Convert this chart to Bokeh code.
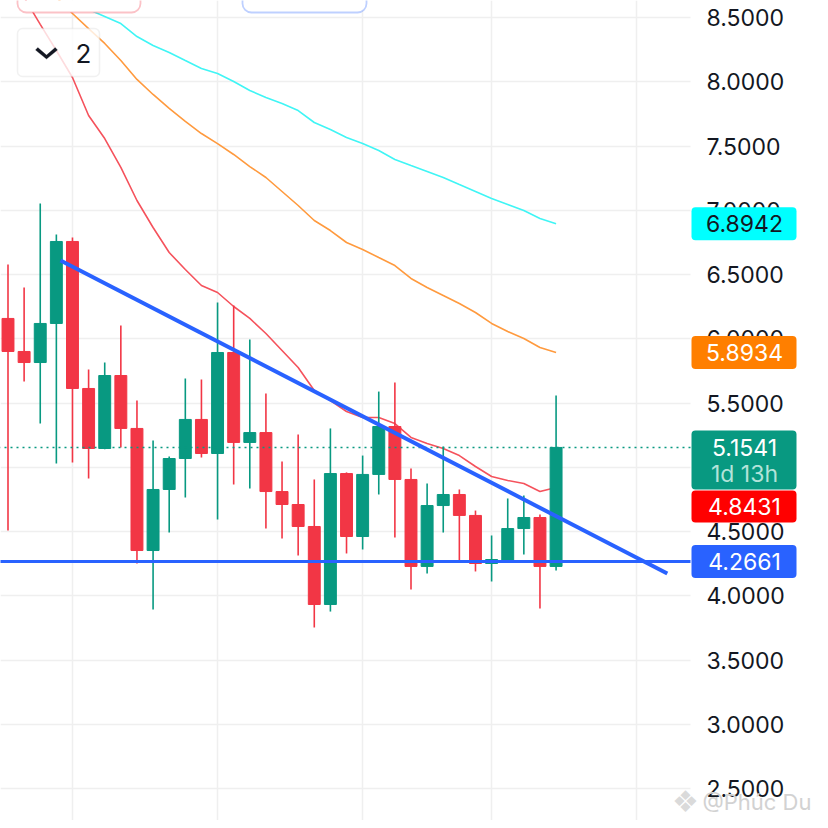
import numpy as np
from bokeh.plotting import figure
from bokeh.models import (Range1d, FixedTicker, Label, BoxAnnotation,
                          PolyAnnotation, ColumnDataSource, NumeralTickFormatter)
from bokeh.embed import file_html
from bokeh.resources import INLINE

# ---------------- data ----------------
opens  = [6.158, 5.901, 5.815, 6.119, 6.757, 5.613, 5.146, 5.714, 5.302, 4.352,
          4.827, 5.068, 5.372, 5.107, 5.893, 5.193, 5.270, 4.811, 4.710, 4.539,
          3.932, 4.951, 4.461, 4.944, 5.317, 4.905, 4.228, 4.702, 4.788, 4.625,
          4.251, 4.274, 4.523, 4.609, 4.228]
highs  = [6.578, 6.399, 7.053, 6.811, 6.788, 5.761, 5.815, 6.103, 5.519, 5.208,
          5.084, 5.691, 5.683, 6.282, 6.259, 5.994, 5.574, 5.045, 5.255, 4.905,
          5.302, 4.960, 5.091, 5.589, 5.660, 4.990, 4.874, 5.161, 4.827, 4.663,
          4.469, 4.757, 4.780, 4.632, 5.558]
lows   = [4.508, 5.667, 5.340, 5.029, 5.037, 4.912, 5.140, 5.154, 4.251, 3.893,
          4.492, 4.765, 5.076, 4.593, 4.866, 4.835, 4.523, 4.446, 4.313, 3.753,
          3.877, 4.329, 4.360, 4.788, 4.453, 4.049, 4.173, 4.492, 4.274, 4.189,
          4.111, 4.259, 4.321, 3.901, 4.196]
closes = [5.901, 5.815, 6.119, 6.757, 5.613, 5.146, 5.714, 5.302, 4.352, 4.827,
          5.068, 5.372, 5.107, 5.893, 5.193, 5.270, 4.811, 4.710, 4.539, 3.932,
          4.951, 4.461, 4.944, 5.317, 4.905, 4.228, 4.702, 4.788, 4.625, 4.251,
          4.282, 4.523, 4.609, 4.228, 5.1541]

nan = float("nan")
ma_fast = [8.866, 8.656, 8.446, 8.243, 8.033, 7.737, 7.558, 7.333, 7.076, 6.866,
           6.671, 6.539, 6.414, 6.360, 6.251, 6.158, 6.041, 5.909, 5.776, 5.597,
           5.519, 5.434, 5.387, 5.387, 5.340, 5.232, 5.185, 5.146, 5.091, 5.006,
           4.928, 4.897, 4.874, 4.811, 4.8431]
ma_mid  = [nan, nan, nan, 8.656, 8.531, 8.414, 8.298, 8.165, 8.018, 7.901,
           7.792, 7.691, 7.597, 7.519, 7.434, 7.340, 7.255, 7.146, 7.037, 6.920,
           6.842, 6.749, 6.695, 6.632, 6.570, 6.469, 6.399, 6.337, 6.274, 6.204,
           6.119, 6.056, 6.002, 5.932, 5.8934]
ma_slow = [nan, nan, nan, nan, 8.617, 8.562, 8.508, 8.453, 8.352, 8.282,
           8.228, 8.165, 8.103, 8.064, 8.002, 7.932, 7.877, 7.831, 7.776, 7.683,
           7.628, 7.566, 7.519, 7.465, 7.395, 7.348, 7.302, 7.255, 7.200, 7.146,
           7.091, 7.045, 6.998, 6.936, 6.8942]

y_ticks = [2.5, 3.0, 3.5, 4.0, 4.5, 5.0, 5.5, 6.0, 6.5, 7.0, 7.5, 8.0, 8.5]
x_grid_idx = [4, 13, 22, 30, 39]
trend_x = [3.26, 40.9]
trend_y = [6.609, 4.173]
support_level = 4.2661
last_price = 5.1541
countdown = "1d 13h"
legend_count = "2"
watermark = "@Phúc Du"

# ---------------- styling / layout ----------------
GREEN = "#089981"
RED = "#F23645"
BLUE = "#2962FF"
FONT = "Inter"
W, H = 820, 820
PX_PER_UNIT = 128.5
PX_PER_BAR = 16.12
AXIS_PX = 690

def val_at(py):
    return 8.5 - (py - 17) / PX_PER_UNIT

def idx_at(px):
    return (px - 7.5) / PX_PER_BAR

axis_x = idx_at(AXIS_PX)

x = list(range(len(opens)))
colors = [GREEN if c >= o else RED for o, c in zip(opens, closes)]
src = ColumnDataSource(dict(
    x=x, high=highs, low=lows,
    top=[max(o, c) for o, c in zip(opens, closes)],
    bottom=[min(o, c) for o, c in zip(opens, closes)],
    color=colors))

p = figure(width=W, height=H, output_backend="svg", toolbar_location=None,
           x_range=Range1d(idx_at(0), idx_at(W)),
           y_range=Range1d(val_at(H), val_at(0)),
           y_axis_location="right", x_axis_location=None,
           min_border=0)
p.outline_line_color = None
p.background_fill_color = "white"
p.border_fill_color = "white"

# price axis drawn at the right edge of the chart area
p.yaxis.fixed_location = axis_x
p.yaxis.ticker = FixedTicker(ticks=y_ticks)
p.yaxis.formatter = NumeralTickFormatter(format="0.0000")
p.yaxis.axis_line_color = None
p.yaxis.major_tick_line_color = None
p.yaxis.minor_tick_line_color = None
p.yaxis.major_tick_out = 0
p.yaxis.major_tick_in = 0
p.yaxis.major_label_standoff = 16
p.yaxis.major_label_text_font = FONT
p.yaxis.major_label_text_font_size = "23px"
p.yaxis.major_label_text_color = "#131722"

p.ygrid.grid_line_color = "#EFEFEF"
p.ygrid.grid_line_width = 1.5
p.xgrid.ticker = FixedTicker(ticks=x_grid_idx)
p.xgrid.grid_line_color = "#EFEFEF"
p.xgrid.grid_line_width = 1.5

# white price-scale area (hides the grid right of the chart area)
p.add_layout(BoxAnnotation(left=axis_x, fill_color="white", fill_alpha=1,
                           line_color=None, level="underlay"))

# moving averages
p.line(x, ma_slow, line_color="#40F5F5", line_width=1.6)
p.line(x, ma_mid, line_color="#FF9A3E", line_width=1.6)
p.line(x, ma_fast, line_color="#F5525C", line_width=1.6)

# candles
p.segment(x0="x", y0="high", x1="x", y1="low", source=src, line_color="color", line_width=1.6)
p.vbar(x="x", width=0.74, top="top", bottom="bottom", source=src,
       fill_color="color", line_color="color", line_width=1)

# support line, last price line (rays running left from the price scale), trend line
p.ray(x=[axis_x], y=[support_level], length=0, angle=np.pi, line_color=BLUE, line_width=3)
p.ray(x=[axis_x], y=[last_price], length=0, angle=np.pi, line_color=GREEN,
      line_width=1.5, line_dash="2 4")
p.line(trend_x, trend_y, line_color=BLUE, line_width=4)

# ---------------- price tags on the axis ----------------
half = 16.5 / PX_PER_UNIT
tag_l, tag_r, tag_c = 691, 796, 744

def tag(y_center, top, bottom, fill, text, color):
    p.add_layout(BoxAnnotation(left=tag_l, right=tag_r, left_units="screen", right_units="screen",
                               top=top, bottom=bottom, fill_color=fill, fill_alpha=1.0,
                               line_color=None, border_radius=4, level="overlay"))
    p.add_layout(Label(x=tag_c, x_units="screen", y=y_center, text=text, text_align="center",
                       text_baseline="middle", text_font=FONT, text_font_size="23px",
                       text_color=color, level="overlay"))

tag(ma_slow[-1], ma_slow[-1] + half, ma_slow[-1] - half, "#00FFFF", f"{ma_slow[-1]:.4f}", "#131722")
tag(ma_mid[-1], ma_mid[-1] + half, ma_mid[-1] - half, "#FF7F00", f"{ma_mid[-1]:.4f}", "white")
g_top = last_price + 17 / PX_PER_UNIT
g_bot = last_price - 42 / PX_PER_UNIT
tag(last_price, g_top, g_bot, GREEN, f"{last_price:.4f}", "white")
p.add_layout(Label(x=tag_c, x_units="screen", y=last_price - 27 / PX_PER_UNIT, text=countdown,
                   text_align="center", text_baseline="middle", text_font=FONT,
                   text_font_size="23px", text_color="#B3E3D9", level="overlay"))
r_top = g_bot - 1 / PX_PER_UNIT
r_bot = r_top - 32 / PX_PER_UNIT
tag((r_top + r_bot) / 2, r_top, r_bot, "#FF0000", f"{ma_fast[-1]:.4f}", "white")
tag(support_level, support_level + half, support_level - half, BLUE, f"{support_level:.4f}", "white")

# ---------------- top widgets ----------------
p.add_layout(BoxAnnotation(left=17, right=140, left_units="screen", right_units="screen",
                           top=val_at(-40), bottom=val_at(12), fill_color="white", fill_alpha=1,
                           line_color=RED, line_width=1.8, border_radius=9, level="overlay"))
p.add_layout(BoxAnnotation(left=242, right=366, left_units="screen", right_units="screen",
                           top=val_at(-40), bottom=val_at(12), fill_color="white", fill_alpha=1,
                           line_color=BLUE, line_width=1.8, border_radius=9, level="overlay"))
p.add_layout(BoxAnnotation(left=17, right=99, left_units="screen", right_units="screen",
                           top=val_at(28), bottom=val_at(76), fill_color="white", fill_alpha=0.8,
                           line_color="#D0D0D0", line_width=1.5, border_radius=5, level="overlay"))
chev_x = [35, 37.3, 46, 54.7, 57, 46]
chev_y = [49.6, 47.0, 54.6, 47.0, 49.6, 58.6]
p.add_layout(PolyAnnotation(xs=chev_x, ys=[val_at(v) for v in chev_y],
                            xs_units="screen", ys_units="data", fill_color="#131722",
                            fill_alpha=1, line_color="#131722", line_width=0.8, level="overlay"))
p.add_layout(Label(x=75, x_units="screen", y=val_at(53), text=legend_count,
                   text_align="left", text_baseline="middle", text_font=FONT,
                   text_font_size="26px", text_color="#131722", level="overlay"))

# watermark
p.add_layout(Label(x=685, x_units="screen", y=val_at(801), text="❖", text_align="center",
                   text_baseline="middle", text_font="DejaVu Sans", text_font_size="30px",
                   text_color="#DADADA", level="overlay"))
p.add_layout(Label(x=702, x_units="screen", y=val_at(801), text=watermark, text_align="left",
                   text_baseline="middle", text_font=FONT, text_font_size="22px",
                   text_color="#D2D2D2", level="overlay"))

open("out.html", "w").write(file_html(p, INLINE))
